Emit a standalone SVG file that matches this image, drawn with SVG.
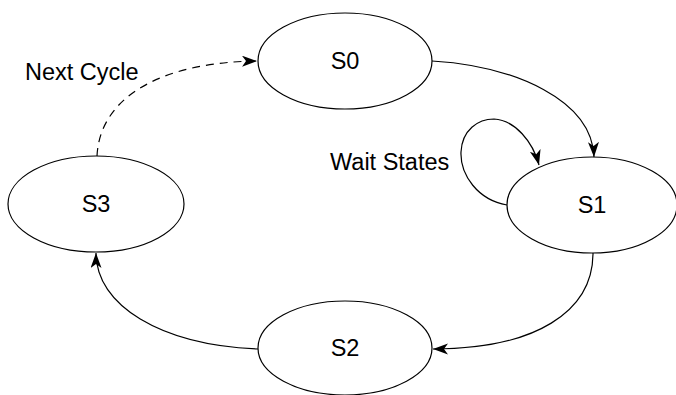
<svg xmlns="http://www.w3.org/2000/svg" width="676" height="395" viewBox="0 0 676 395">
<style>
.node{fill:#fff;stroke:#000;stroke-width:1.2}
.lbl{font-family:"Liberation Sans",Arial,sans-serif;font-size:23.5px;fill:#000}
.edge{fill:none;stroke:#000;stroke-width:1.2}
.dash{stroke-dasharray:8 6}
</style>
<defs>
<marker id="arr" markerUnits="userSpaceOnUse" markerWidth="18" markerHeight="12" refX="15" refY="5.5" orient="auto" viewBox="0 0 18 12">
<path d="M0,0 L15,5.5 L0,11 L4,5.5 Z" fill="#000" stroke="none"/>
</marker>
</defs>
<g id="connectors">
<path class="edge" d="M432,61 C515,66 592,100 594,157" marker-end="url(#arr)"/>
<path class="edge" d="M507,205 C478,200 460,175 461,152 C462,130 478,119 494,119 C515,120 533,142 539,165" marker-end="url(#arr)"/>
<path class="edge" d="M593,253 C593,312 535,349 433,349" marker-end="url(#arr)"/>
<path class="edge" d="M258,349 C160,345 96,305 96,253" marker-end="url(#arr)"/>
<path class="edge dash" d="M97,156 C100,95 165,62 257,61" marker-end="url(#arr)"/>
</g>
<g id="S0"><ellipse class="node" cx="345" cy="61" rx="87" ry="48"/><text class="lbl" x="345" y="69" text-anchor="middle">S0</text></g>
<g id="S1"><ellipse class="node" cx="592" cy="205" rx="85" ry="48"/><text class="lbl" x="592" y="213" text-anchor="middle">S1</text></g>
<g id="S2"><ellipse class="node" cx="345" cy="348" rx="87" ry="47"/><text class="lbl" x="345" y="356" text-anchor="middle">S2</text></g>
<g id="S3"><ellipse class="node" cx="96" cy="204" rx="88" ry="48"/><text class="lbl" x="96" y="212" text-anchor="middle">S3</text></g>
<text class="lbl" x="25" y="80">Next Cycle</text>
<text class="lbl" x="330" y="170">Wait States</text>
</svg>
